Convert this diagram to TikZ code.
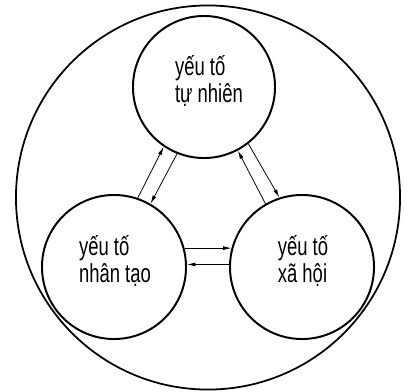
\documentclass[tikz,border=0pt]{standalone}
\usepackage{fontspec}
\setmainfont[FakeStretch=0.71]{Liberation Sans}
\usetikzlibrary{arrows.meta}

\begin{document}
\begin{tikzpicture}[x=0.025cm,y=-0.025cm,>={Latex[length=6pt,width=2.8pt]},
    factor/.style={circle,draw,line width=1.4pt,inner sep=0pt,minimum size=3.6cm},
    lbl/.style={align=left,inner sep=0pt,font=\fontsize{18.5}{19.2}\selectfont},
    link/.style={->,line width=0.55pt}]
        \useasboundingbox (0,0) rectangle (408,391);
        \node[circle,draw,line width=1.25pt,inner sep=0pt,minimum size=9.6cm] (env) at (208,197.5) {};
        \node[factor,minimum size=3.55cm] (nat) at (204,87) {};
        \node[factor] (art) at (114,267) {};
        \node[factor] (soc) at (302,267) {};
        \node[lbl] (natlbl) at (209,81) {yếu tố\\tự nhiên};
        \node[lbl] (artlbl) at (115,261) {yếu tố\\nhân tạo};
        \node[lbl] (soclbl) at (303,261) {yếu tố\\xã hội};
        \draw[link] (art.71) -- (nat.236);
        \draw[link] (nat.248) -- (art.60);
        \draw[link] (soc.120) -- (nat.298);
        \draw[link] (nat.308) -- (soc.108);
        \draw[link] (art.15) -- (soc.165);
        \draw[link] (soc.178) -- (art.2);
      \end{tikzpicture}
\end{document}
